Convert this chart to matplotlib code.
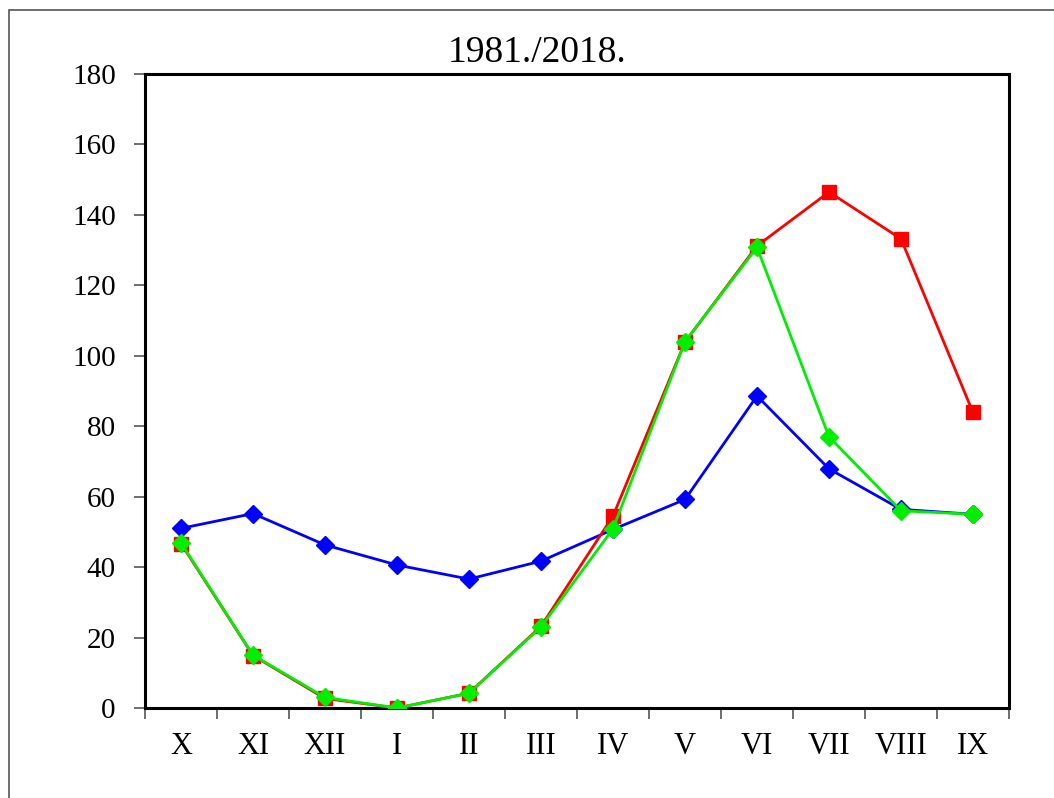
"""Monthly values 1981./2018."""

import matplotlib
matplotlib.use("Agg")
import matplotlib.pyplot as plt
from matplotlib.patches import Rectangle

months = ["X", "XI", "XII", "I", "II", "III", "IV", "V", "VI", "VII", "VIII", "IX"]
blue_vals = [51.0, 55.2, 46.3, 40.6, 36.6, 41.7, 50.7, 59.2, 88.6, 67.9, 56.4, 55.0]
red_vals = [46.7, 14.9, 2.7, 0.0, 4.2, 23.2, 54.5, 103.9, 131.2, 146.5, 133.2, 83.9]
green_vals = [46.9, 15.0, 3.0, 0.0, 4.2, 23.0, 50.9, 104.0, 130.8, 77.0, 56.0, 55.0]

plt.rcParams["font.family"] = ["Liberation Serif", "DejaVu Serif"]

fig = plt.figure(figsize=(10.54, 7.98), dpi=100)
ax = fig.add_axes([145 / 1054, 1 - 708 / 798, 864 / 1054, 634 / 798])

# outer frame (cut off at right/bottom like the source)
fig.patches.append(Rectangle((9 / 1054, -0.05), 1.2, 1 - 10 / 798 + 0.05,
                             transform=fig.transFigure, fill=False,
                             edgecolor="#555555", linewidth=1.2))

x = list(range(len(months)))
ax.plot(x, blue_vals, color="#0000ff", lw=2, marker="D", ms=9, zorder=3)
ax.plot(x, red_vals, color="#ff0000", lw=2, marker="s", ms=10, zorder=4)
ax.plot(x, green_vals, color="#00ee00", lw=2, marker="D", ms=9, zorder=5)

ax.set_xlim(-0.5, len(months) - 0.5)
ax.set_ylim(0, 180)
ax.set_yticks(range(0, 181, 20))
ax.set_xticks(x)
ax.set_xticklabels(months)
ax.set_xticks([i - 0.5 for i in range(len(months) + 1)], minor=True)
ax.tick_params(axis="x", which="major", length=0, pad=17, labelsize=22)
ax.tick_params(axis="x", which="minor", length=8, width=1.2, direction="out",
               color="#555555")
ax.tick_params(axis="y", length=8, width=1.2, direction="out", pad=13,
               labelsize=21, color="#555555")
for s in ax.spines.values():
    s.set_linewidth(2.2)

fig.text(537 / 1054, 1 - 53 / 798, "1981./2018.", fontsize=27,
         ha="center", va="center")

fig.savefig("out.png", dpi=100)
